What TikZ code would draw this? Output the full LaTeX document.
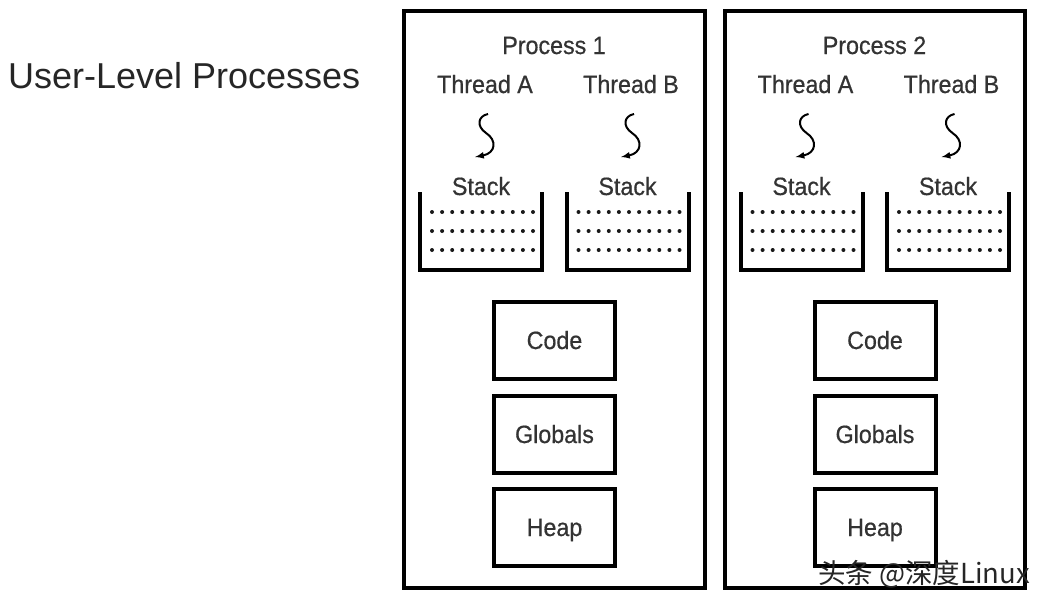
\documentclass[tikz,border=0pt]{standalone}
\usepackage{fontspec}
\setmainfont{Liberation Sans}
\newfontfamily\narrowfont[FakeStretch=0.93, FakeBold=0.6]{Liberation Sans}
\newfontfamily\cjkfont{Noto Sans CJK SC}
\usetikzlibrary{arrows, positioning}

\tikzset{
  headline/.style={font=\fontsize{36}{36}\selectfont, text=black!85, inner sep=0pt, anchor=base west},
  proclabel/.style={font=\narrowfont\fontsize{25}{25}\selectfont, text=black!80, inner sep=0pt, anchor=base},
  procbox/.style={draw, line width=4pt, minimum width=300.5pt, minimum height=577.5pt, inner sep=0pt},
  membox/.style={draw, line width=4pt, minimum width=121pt, minimum height=77pt, inner sep=0pt,
    text height=18pt, text depth=0pt, font=\narrowfont\fontsize{25}{25}\selectfont, text=black!80},
  bucket/.style={draw, line width=4pt},
  squiggle/.style={draw, line width=2pt, ->}
}

\begin{document}
\begin{tikzpicture}[x=1pt, y=-1pt, >=latex]
  \useasboundingbox (0,0) rectangle (1049,605);

  \node[headline] (title) at (8,88) {User-Level Processes};

  \foreach \p/\dx in {1/0, 2/320.5} {
    \begin{scope}[xshift=\dx pt]
      \node[procbox] (proc\p) at (554.25,299.25) {};
      \node[proclabel] (name\p) at (554,54) {Process \p};

      % two threads, each with its own stack
      \foreach \t/\tx/\sx in {A/485/420, B/631/566.5} {
        \node[proclabel] (thread\p\t) at (\tx,93) {Thread \t};
        \coordinate (sqtop\p\t) at (\tx+3,114);
        \coordinate (sqend\p\t) at (\tx-10,157);
        \draw[squiggle] (sqtop\p\t) .. controls (\tx-7,116) and (\tx-9,126) .. (\tx+1,133)
          .. controls (\tx+12,140) and (\tx+11,153) .. (sqend\p\t);
        \node[proclabel] (stack\p\t) at (\sx+61,195) {Stack};
        \draw[bucket] (\sx,192) -- (\sx,269.5) -- (\sx+122,269.5) -- (\sx+122,192);
        \foreach \r in {212,231,250} {
          \foreach \i in {0,...,10} {
            \fill[black!90] (\sx+12+\i*10.1,\r) circle (2pt);
          };
        };
      };

      \node[membox] (code\p) at (554.5,340) {Code};
      \node[membox] (glob\p) at (554.5,434) {Globals};
      \node[membox] (heap\p) at (554.5,527) {Heap};
    \end{scope}
  };

  \node[font=\cjkfont\fontsize{27.5}{27.5}\selectfont, text=black!85, inner sep=0pt, anchor=base west]
    (mark) at (818,583) {头条 @深度Linux};
\end{tikzpicture}
\end{document}
